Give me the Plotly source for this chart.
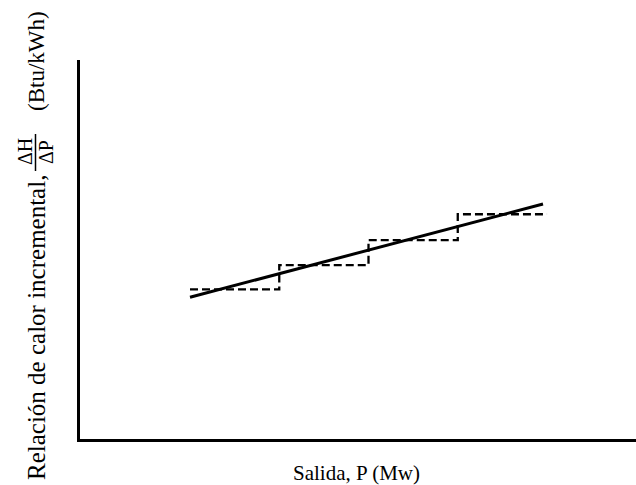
import plotly.graph_objects as go

# Data (arbitrary units; the original figure has no tick labels)
line_x = [1.0, 4.955]          # linear incremental heat rate
line_y = [3.74, 6.20]
step_edges = [1, 2, 3, 4, 5]   # block boundaries of output P
step_levels = [3.95, 4.59, 5.25, 5.93]  # piecewise-constant approximation

x_title = "Salida, P (Mw)"
y_title_main = "Relación de calor incremental,"
y_title_num = "ΔH"
y_title_den = "ΔP"
y_title_units = "(Btu/kWh)"

W, H = 636, 485
ML, MR, MT, MB = 80, 0, 60, 46
PW, PH = W - ML - MR, H - MT - MB

def px_x(s):
    return (s - ML) / PW

def px_y(s):
    return (H - MB - s) / PH

FONT = "Liberation Serif, Times New Roman, serif"

fig = go.Figure()

# piecewise (dashed) step
fig.add_trace(go.Scatter(
    x=step_edges,
    y=step_levels + [step_levels[-1]],
    mode="lines",
    line=dict(color="black", width=2.3, dash="8px,4px", shape="hv"),
    hoverinfo="skip",
    showlegend=False,
))

# solid linear curve
fig.add_trace(go.Scatter(
    x=line_x, y=line_y,
    mode="lines",
    line=dict(color="black", width=3),
    hoverinfo="skip",
    showlegend=False,
))

annotations = [
    dict(text=x_title, x=px_x(356), y=px_y(473), xref="paper", yref="paper",
         showarrow=False, xanchor="center", yanchor="middle",
         font=dict(family=FONT, size=21, color="black")),
    dict(text=y_title_main, x=px_x(36), y=px_y(328), xref="paper", yref="paper",
         showarrow=False, textangle=-90, xanchor="center", yanchor="middle",
         font=dict(family=FONT, size=25, color="black")),
    dict(text=y_title_num, x=px_x(25), y=px_y(152), xref="paper", yref="paper",
         showarrow=False, textangle=-90, xanchor="center", yanchor="middle",
         font=dict(family=FONT, size=20, color="black")),
    dict(text=y_title_den, x=px_x(46), y=px_y(152), xref="paper", yref="paper",
         showarrow=False, textangle=-90, xanchor="center", yanchor="middle",
         font=dict(family=FONT, size=20, color="black")),
    dict(text=y_title_units, x=px_x(36), y=px_y(61), xref="paper", yref="paper",
         showarrow=False, textangle=-90, xanchor="center", yanchor="middle",
         font=dict(family=FONT, size=23, color="black")),
]

shapes = [
    dict(type="line", xref="paper", yref="paper",
         x0=px_x(35.5), x1=px_x(35.5), y0=px_y(134), y1=px_y(171),
         line=dict(color="black", width=1.5)),
]

fig.update_layout(
    width=W, height=H,
    margin=dict(l=ML, r=MR, t=MT, b=MB, pad=0),
    paper_bgcolor="white", plot_bgcolor="white",
    showlegend=False,
    annotations=annotations,
    shapes=shapes,
    xaxis=dict(range=[-0.2325, 5.997], showgrid=False, zeroline=False,
               showticklabels=False, ticks="", showline=True,
               linecolor="black", linewidth=3, fixedrange=True),
    yaxis=dict(range=[0, 10], showgrid=False, zeroline=False,
               showticklabels=False, ticks="", showline=True,
               linecolor="black", linewidth=3, fixedrange=True),
)

fig.write_html(
    "out.html",
    config={"responsive": False, "displayModeBar": False},
    post_script="document.body.style.margin='0';document.body.style.overflow='hidden';",
)
